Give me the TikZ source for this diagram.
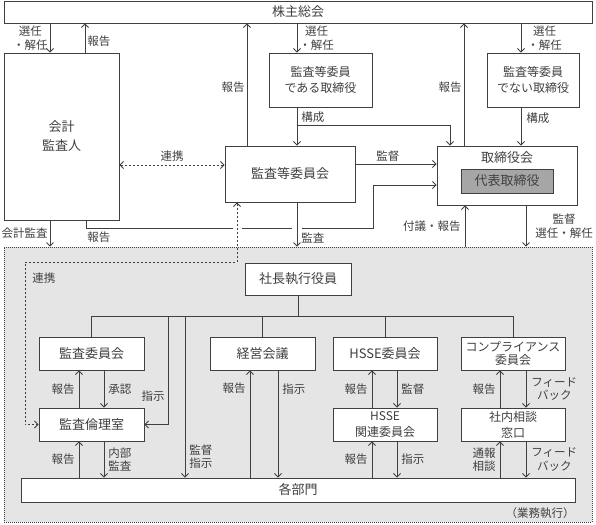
\documentclass[tikz,border=0pt]{standalone}
\usepackage{fontspec}
\setmainfont{Noto Sans CJK JP}
\usetikzlibrary{arrows.meta}
\definecolor{mline}{gray}{0.25}
\definecolor{marea}{gray}{0.9}
\definecolor{mrep}{gray}{0.65}
\newcommand\boxfont{\fontsize{13}{16}\selectfont}
\newcommand\smallboxfont{\fontsize{12}{16}\selectfont}
\newcommand\lblfont{\fontsize{11.5}{13.5}\selectfont}
\tikzset{>={Straight Barb[length=3.5pt,width=7pt]},
         box/.style={draw, fill=white, inner sep=0pt, align=center, font=\boxfont},
         lbl/.style={font=\lblfont, align=center, inner sep=2pt},
         area/.style={draw, fill=marea, dash pattern=on 1pt off 1pt, line width=0.6pt, inner sep=0pt},
         dashline/.style={dash pattern=on 2pt off 2pt}}

\begin{document}
\begin{tikzpicture}[x=1pt, y=-1pt, mline, line width=0.9pt]
    \useasboundingbox (0,0) rectangle (596,524);
    \node [area, minimum width=588, minimum height=275] (area) at (298,384.5) {};

    \node [box, minimum width=588, minimum height=22] (kabu) at (298,12) {株主総会};
    \node [box, minimum width=115, minimum height=167, font=\fontsize{13}{19}\selectfont] (kaikei) at (61.5,136.5) {会計\\監査人};
    \node [box, minimum width=103, minimum height=54, font=\smallboxfont] (dearu) at (320.5,80) {監査等委員\\である取締役};
    \node [box, minimum width=92, minimum height=54, font=\smallboxfont] (denai) at (533,80) {監査等委員\\でない取締役};
    \node [box, minimum width=130, minimum height=56] (iinkai) at (290,174) {監査等委員会};
    \node [box, minimum width=140, minimum height=59,
           label={[font=\boxfont, anchor=north, inner sep=0pt, yshift=-6pt]north:取締役会}] (board) at (507,175.5) {};
    \node [box, fill=mrep, minimum width=92, minimum height=24] (rep) at (507,181) {代表取締役};

    \draw [->] (kabu.south -| 50,0) -- (kaikei.north -| 50,0) node [lbl, midway, left] {選任\\・解任};
    \draw [->] (kaikei.north -| 85,0) -- (kabu.south -| 85,0) node [lbl, midway, right, yshift=-3pt] {報告};
    \draw [->] (iinkai.north -| 247,0) -- (kabu.south -| 247,0) node [lbl, midway, left, yshift=-3pt] {報告};
    \draw [->] (kabu.south -| 297,0) -- (dearu.north -| 297,0) node [lbl, midway, right] {選任\\・解任};
    \draw [->] (board.north -| 464,0) -- (kabu.south -| 464,0) node [lbl, midway, left, yshift=-3pt] {報告};
    \draw [->] (kabu.south -| 521,0) -- (denai.north -| 521,0) node [lbl, midway, right, xshift=4pt] {選任\\・解任};

    \draw [->] (dearu.south -| 297,0) -- (iinkai.north -| 297,0) node [lbl, pos=0.25, right, xshift=2pt] {構成};
    \draw [->] (dearu.south -| 297,0) -- (297,125) -| (board.north -| 450,0);
    \draw [->] (denai.south -| 521,0) -- (board.north -| 521,0) node [lbl, pos=0.28, right, xshift=3pt] {構成};

    \draw [<->, dashline] (kaikei.east |- 0,165) -- (iinkai.west |- 0,165) node [lbl, midway, above, yshift=1pt] {連携};
    \draw [->] (iinkai.east |- 0,164) -- (board.west |- 0,164) node [lbl, pos=0.4, above] {監督};

    \draw [->] (kaikei.south -| 86,0) -- (86,228) node [lbl, anchor=north west, xshift=-1pt, yshift=-1pt] {報告}
          -- (373,228) -- (373,185) -- (board.west |- 0,185);
    \draw [white, line width=3pt] (233,228) -- (242,228);
    \draw [white, line width=3pt] (292,228) -- (302,228);

    \draw [->] (kaikei.south -| 50,0) -- (area.north -| 50,0) node [lbl, midway, left] {会計監査};
    \draw [->] (iinkai.south -| 297,0) -- (area.north -| 297,0) node [lbl, pos=0.8, right, xshift=2pt] {監査};
    \draw [->] (area.north -| 465,0) -- (board.south -| 465,0) node [lbl, midway, left, xshift=-2pt] {付議・報告};
    \draw [->] (board.south -| 526,0) -- (area.north -| 526,0) node [lbl, midway, right, xshift=7pt] {監督\\選任・解任};

    \node [box, minimum width=106, minimum height=32] (ceo) at (298,279) {社長執行役員};
    \node [box, minimum width=105, minimum height=33] (kansa) at (91.5,353.5) {監査委員会};
    \node [box, minimum width=105, minimum height=33] (keiei) at (262.5,353.5) {経営会議};
    \node [box, minimum width=104, minimum height=33] (hsse) at (385,353.5) {HSSE委員会};
    \node [box, minimum width=104, minimum height=33, font=\fontsize{12}{13.5}\selectfont] (comp) at (513,353.5) {コンプライアンス\\委員会};
    \node [box, minimum width=105, minimum height=33] (rinri) at (91.5,424.5) {監査倫理室};
    \node [box, minimum width=104, minimum height=33, font=\smallboxfont] (hsser) at (385,424.5) {HSSE\\関連委員会};
    \node [box, minimum width=104, minimum height=33, font=\smallboxfont] (soudan) at (513,424.5) {社内相談\\窓口};
    \node [box, minimum width=554, minimum height=24] (bumon) at (298,490) {各部門};

    \draw [<->, dashline] (iinkai.south -| 237,0) |- (25,262) node [lbl, anchor=north west, xshift=5pt, yshift=-8pt] {連携} |- (rinri.west);

    \draw (ceo.south) -- (ceo.south |- 0,316);
    \draw (kansa.north) |- (comp.north |- 0,316) -- (comp.north);
    \draw (keiei.north) -- (keiei.north |- 0,316);
    \draw (hsse.north) -- (hsse.north |- 0,316);
    \draw [->] (168,316) |- (rinri.east) node [lbl, pos=0.37, left, xshift=-1pt] {指示};
    \draw [->] (185,316) -- (bumon.north -| 185,0) node [lbl, pos=0.87, right, xshift=2pt] {監督\\指示};

    \draw [->] (rinri.north -| 79,0) -- (kansa.south -| 79,0) node [lbl, midway, left, xshift=-2pt] {報告};
    \draw [->] (kansa.south -| 104,0) -- (rinri.north -| 104,0) node [lbl, midway, right, xshift=2pt] {承認};
    \draw [->] (bumon.north -| 79,0) -- (rinri.south -| 79,0) node [lbl, midway, left, xshift=-2pt] {報告};
    \draw [->] (rinri.south -| 104,0) -- (bumon.north -| 104,0) node [lbl, midway, right, xshift=2pt] {内部\\監査};

    \draw [->] (bumon.north -| 250,0) -- (keiei.south -| 250,0) node [lbl, pos=0.83, left, xshift=-2pt] {報告};
    \draw [->] (keiei.south -| 278,0) -- (bumon.north -| 278,0) node [lbl, pos=0.17, right, xshift=2pt] {指示};

    \draw [->] (hsser.north -| 372,0) -- (hsse.south -| 372,0) node [lbl, midway, left, xshift=-2pt] {報告};
    \draw [->] (hsse.south -| 397,0) -- (hsser.north -| 397,0) node [lbl, midway, right, xshift=2pt] {監督};
    \draw [->] (bumon.north -| 372,0) -- (hsser.south -| 372,0) node [lbl, midway, left, xshift=-2pt] {報告};
    \draw [->] (hsser.south -| 397,0) -- (bumon.north -| 397,0) node [lbl, midway, right, xshift=2pt] {指示};

    \draw [->] (soudan.north -| 500,0) -- (comp.south -| 500,0) node [lbl, midway, left, xshift=-2pt] {報告};
    \draw [->] (comp.south -| 526,0) -- (soudan.north -| 526,0) node [lbl, midway, right, xshift=3pt] {フィード\\バック};
    \draw [->] (bumon.north -| 500,0) -- (soudan.south -| 500,0) node [lbl, midway, left, xshift=-2pt] {通報\\相談};
    \draw [->] (soudan.south -| 526,0) -- (bumon.north -| 526,0) node [lbl, midway, right, xshift=3pt] {フィード\\バック};

    \node [lbl, anchor=east] (gyomu) at (577,513) {（業務執行）};
  \end{tikzpicture}
\end{document}
